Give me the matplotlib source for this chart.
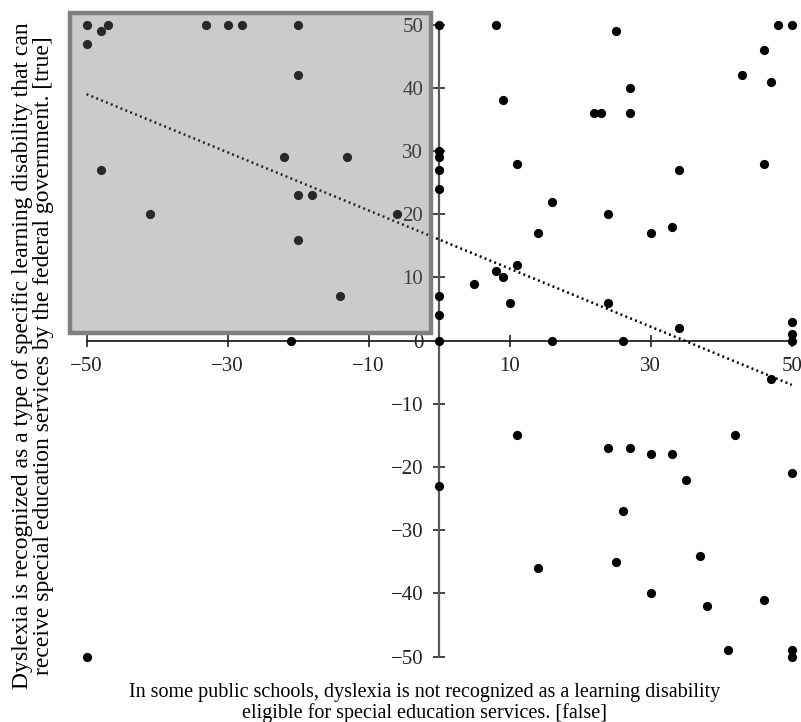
import matplotlib.pyplot as plt
from matplotlib.patches import Rectangle

plt.rcParams['font.family'] = ['Liberation Serif', 'DejaVu Serif']

# points
xs = [-50, -50, -48, -47, -33, -30, -28, -20, -20, -48, -41, -22, -13, -20, -18, -20, -14, -6, -21,
      0, 0, 0, 0, 0, 0, 0, 0, 0,
      8, 25, 48, 50, 46, 43, 47, 9, 22, 23, 27, 27, 11, 34, 46, 16, 24, 14, 30, 33,
      11, 8, 9, 5, 10, 24, 34, 50, 50, 50, 16, 26,
      47, 11, 42, 24, 27, 30, 33, 50, 35, 26, 37, 14, 25, 30, 38, 46, 41, 50, 50, -50]
ys = [50, 47, 49, 50, 50, 50, 50, 50, 42, 27, 20, 29, 29, 23, 23, 16, 7, 20, 0,
      50, 30, 29, 27, 24, 7, 4, 0, -23,
      50, 49, 50, 50, 46, 42, 41, 38, 36, 36, 40, 36, 28, 27, 28, 22, 20, 17, 17, 18,
      12, 11, 10, 9, 6, 6, 2, 3, 1, 0, 0, 0,
      -6, -15, -15, -17, -17, -18, -18, -21, -22, -27, -34, -36, -35, -40, -42, -41, -49, -49, -50, -50]

# dotted trend line, read at its two ends
trend_x = [-50, 50]
trend_y = [39, -7]

xticks = [-50, -30, -10, 10, 30, 50]
yticks = [-50, -40, -30, -20, -10, 0, 10, 20, 30, 40, 50]

xlabel = ("In some public schools, dyslexia is not recognized as a learning disability\n"
          "eligible for special education services. [false]")
ylabel = ("Dyslexia is recognized as a type of specific learning disability that can\n"
          "receive special education services by the federal government. [true]")

fig = plt.figure(figsize=(8.01, 7.22), dpi=100)
ax = fig.add_axes([0.0816, 0.073, 0.9184, 0.927])
ax.set_xlim(-53, 51.3)
ax.set_ylim(-52, 53.9)

ax.scatter(xs, ys, s=44, color='black', zorder=3, clip_on=False, linewidths=0)
ax.plot(trend_x, trend_y, color='black', lw=1.8, linestyle=(0, (0.8, 1.3)), zorder=4)

# highlighted quadrant
ax.add_patch(Rectangle((-52.3, 1.25), 51.1, 50.65, facecolor='#707070', alpha=0.36,
                       edgecolor='none', zorder=5))
ax.add_patch(Rectangle((-52.3, 1.25), 51.1, 50.65, fill=False, edgecolor='#808080',
                       lw=3.2, zorder=5))

for s in ['top', 'right']:
    ax.spines[s].set_visible(False)
ax.spines['left'].set_position(('data', 0))
ax.spines['bottom'].set_position(('data', 0))
ax.spines['left'].set_bounds(-50, 50)
ax.spines['bottom'].set_bounds(-50, 50)
ax.spines['left'].set_color('#5a5a5a')
ax.spines['left'].set_linewidth(1.6)
ax.spines['bottom'].set_color('#222222')
ax.spines['bottom'].set_linewidth(1.3)

ax.set_xticks(xticks)
ax.set_yticks(yticks)
ax.set_xticklabels([str(v).replace('-', '\u2212') for v in xticks])
ax.set_yticklabels([str(v).replace('-', '\u2212') for v in yticks])
ax.tick_params(axis='both', direction='inout', length=9, width=1.2, labelsize=15,
               colors='#222222')
ax.tick_params(axis='x', pad=7)
ax.tick_params(axis='y', pad=7)

fig.text(0.53, -0.001, xlabel, ha='center', va='bottom', fontsize=14.5, linespacing=1.05)
fig.text(0.041, 0.507, ylabel, ha='center', va='center', rotation=90, fontsize=17,
         linespacing=1.0)

fig.savefig('out.png', dpi=100)
